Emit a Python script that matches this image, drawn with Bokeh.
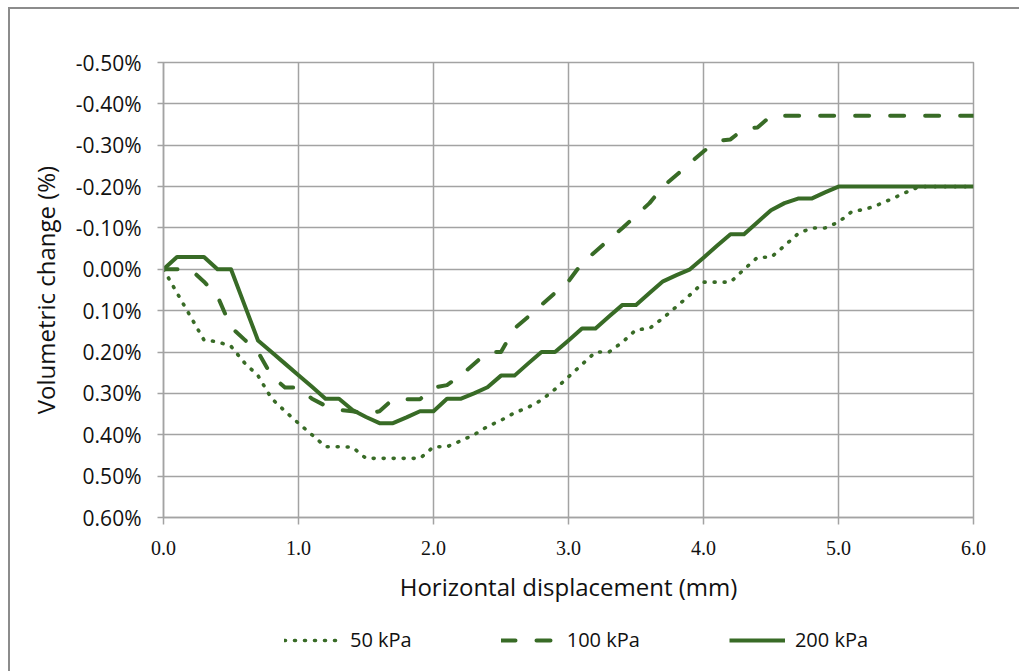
from bokeh.plotting import figure
from bokeh.layouts import column
from bokeh.models import (Range1d, FixedTicker, CustomJSTickFormatter, Legend, LegendItem)
from bokeh.embed import file_html
from bokeh.resources import INLINE

# ---- data ----
x_mm = [0.0, 0.1, 0.2, 0.3, 0.4, 0.5, 0.6, 0.7, 0.8, 0.9,
        1.0, 1.1, 1.2, 1.3, 1.4, 1.5, 1.6, 1.7, 1.8, 1.9,
        2.0, 2.1, 2.2, 2.3, 2.4, 2.5, 2.6, 2.7, 2.8, 2.9,
        3.0, 3.1, 3.2, 3.3, 3.4, 3.5, 3.6, 3.7, 3.8, 3.9,
        4.0, 4.1, 4.2, 4.3, 4.4, 4.5, 4.6, 4.7, 4.8, 4.9,
        5.0, 5.1, 5.2, 5.3, 5.4, 5.5, 5.6, 5.7, 5.8, 5.9, 6.0]

vol_50kpa = [0.0, 0.057, 0.114, 0.171, 0.175, 0.186, 0.226, 0.257, 0.312, 0.343,
             0.372, 0.4, 0.429, 0.429, 0.43, 0.457, 0.457, 0.457, 0.457, 0.457,
             0.429, 0.429, 0.415, 0.4, 0.38, 0.365, 0.347, 0.334, 0.316, 0.29,
             0.26, 0.23, 0.2, 0.2, 0.176, 0.146, 0.143, 0.118, 0.09, 0.062,
             0.031, 0.031, 0.031, 0.0, -0.029, -0.029, -0.057, -0.086, -0.1, -0.1,
             -0.114, -0.14, -0.145, -0.157, -0.171, -0.186, -0.2, -0.2, -0.2, -0.2, -0.2]

vol_100kpa = [0.0, 0.0, 0.0, 0.03, 0.065, 0.14, 0.17, 0.2, 0.257, 0.286,
              0.286, 0.313, 0.33, 0.34, 0.343, 0.35, 0.343, 0.314, 0.314, 0.314,
              0.286, 0.28, 0.257, 0.229, 0.2, 0.2, 0.143, 0.115, 0.086, 0.057,
              0.029, -0.015, -0.043, -0.072, -0.1, -0.13, -0.16, -0.2, -0.228, -0.257,
              -0.285, -0.31, -0.314, -0.34, -0.343, -0.371, -0.371, -0.371, -0.371, -0.371,
              -0.371, -0.371, -0.371, -0.371, -0.371, -0.371, -0.371, -0.371, -0.371, -0.371, -0.371]

vol_200kpa = [0.0, -0.03, -0.03, -0.03, 0.0, 0.0, 0.086, 0.172, 0.2, 0.228,
              0.256, 0.284, 0.313, 0.313, 0.34, 0.357, 0.372, 0.372, 0.358, 0.343,
              0.343, 0.313, 0.313, 0.3, 0.285, 0.257, 0.257, 0.228, 0.2, 0.2,
              0.172, 0.143, 0.143, 0.114, 0.086, 0.086, 0.057, 0.029, 0.014, 0.0,
              -0.028, -0.057, -0.085, -0.085, -0.114, -0.143, -0.16, -0.171, -0.171, -0.186,
              -0.2, -0.2, -0.2, -0.2, -0.2, -0.2, -0.2, -0.2, -0.2, -0.2, -0.2]

series_labels = ["50 kPa", "100 kPa", "200 kPa"]
x_ticks = [0, 1, 2, 3, 4, 5, 6]
y_ticks = [-0.5, -0.4, -0.3, -0.2, -0.1, 0.0, 0.1, 0.2, 0.3, 0.4, 0.5, 0.6]

GREEN = "#386B26"
GRID = "#A3A3A3"
SANS = "Open Sans"
W = 1009
NAN = float("nan")

p = figure(width=W, height=610, output_backend="svg", toolbar_location=None,
           x_range=Range1d(0, 6), y_range=Range1d(0.6, -0.5),
           min_border_left=153, min_border_right=46, min_border_top=53, min_border_bottom=102)

p.background_fill_color = "white"
p.border_fill_color = "white"
p.outline_line_color = GRID
p.outline_line_width = 1.5

line50 = dict(line_color=GREEN, line_width=3.6, line_dash="1 9", line_cap="round", line_join="round")
line100 = dict(line_color=GREEN, line_width=4, line_dash="14 21", line_cap="round", line_join="round")
line200 = dict(line_color=GREEN, line_width=4, line_join="round")

p.line(x_mm, vol_50kpa, **line50)
p.line(x_mm, vol_100kpa, **line100)
p.line(x_mm, vol_200kpa, **line200)

xa = p.xaxis[0]
xa.ticker = FixedTicker(ticks=x_ticks)
xa.formatter = CustomJSTickFormatter(code="return tick.toFixed(1);")
xa.axis_label = "Horizontal displacement (mm)"
xa.axis_label_text_font = SANS
xa.axis_label_text_font_style = "normal"
xa.axis_label_text_font_size = "24px"
xa.axis_label_text_color = "#111111"
xa.axis_label_standoff = 12
xa.major_label_text_font = "Liberation Serif"
xa.major_label_text_font_size = "20px"
xa.major_label_text_color = "#111111"
xa.major_label_standoff = 16
xa.axis_line_color = GRID
xa.axis_line_width = 1.5
xa.major_tick_line_color = GRID
xa.major_tick_line_width = 1.5
xa.major_tick_out = 7
xa.major_tick_in = 0
xa.minor_tick_line_color = None

ya = p.yaxis[0]
ya.ticker = FixedTicker(ticks=y_ticks)
ya.formatter = CustomJSTickFormatter(code="return tick.toFixed(2) + '%';")
ya.axis_label = "Volumetric change (%)"
ya.axis_label_text_font = SANS
ya.axis_label_text_font_style = "normal"
ya.axis_label_text_font_size = "24px"
ya.axis_label_text_color = "#111111"
ya.axis_label_standoff = 11
ya.major_label_text_font = SANS
ya.major_label_text_font_size = "21px"
ya.major_label_text_color = "#111111"
ya.major_label_standoff = 16
ya.axis_line_color = GRID
ya.axis_line_width = 1.5
ya.major_tick_line_color = GRID
ya.major_tick_line_width = 1.5
ya.major_tick_out = 6
ya.major_tick_in = 0
ya.minor_tick_line_color = None

p.xgrid.ticker = FixedTicker(ticks=x_ticks)
p.ygrid.ticker = FixedTicker(ticks=y_ticks)
for g in (p.xgrid[0], p.ygrid[0]):
    g.grid_line_color = GRID
    g.grid_line_width = 1.5

# ---- legend strip ----
pl = figure(width=W, height=52, output_backend="svg", toolbar_location=None,
            x_range=Range1d(0, 1), y_range=Range1d(0, 1),
            min_border_left=0, min_border_right=0, min_border_top=0, min_border_bottom=0)
pl.axis.visible = False
pl.grid.visible = False
pl.outline_line_color = None
pl.background_fill_color = "white"
pl.border_fill_color = "white"
k50 = pl.line(x=[NAN], y=[NAN], **line50)
k100 = pl.line(x=[NAN], y=[NAN], **line100)
k200 = pl.line(x=[NAN], y=[NAN], **line200)

legend = Legend(items=[LegendItem(label=series_labels[0], renderers=[k50]),
                       LegendItem(label=series_labels[1], renderers=[k100]),
                       LegendItem(label=series_labels[2], renderers=[k200])],
                orientation="horizontal", location=(121, 18),
                glyph_width=56, glyph_height=20, label_standoff=10, spacing=89,
                label_text_font=SANS, label_text_font_size="20px", label_text_color="#111111",
                border_line_color=None, background_fill_alpha=0, margin=0, padding=5)
pl.add_layout(legend, "center")

layout = column(p, pl, spacing=0, margin=(7, 0, 0, 8),
                styles={"border-left": "2px solid #8C8C8C", "border-top": "2px solid #8C8C8C"})

open("out.html", "w").write(file_html(layout, INLINE))
